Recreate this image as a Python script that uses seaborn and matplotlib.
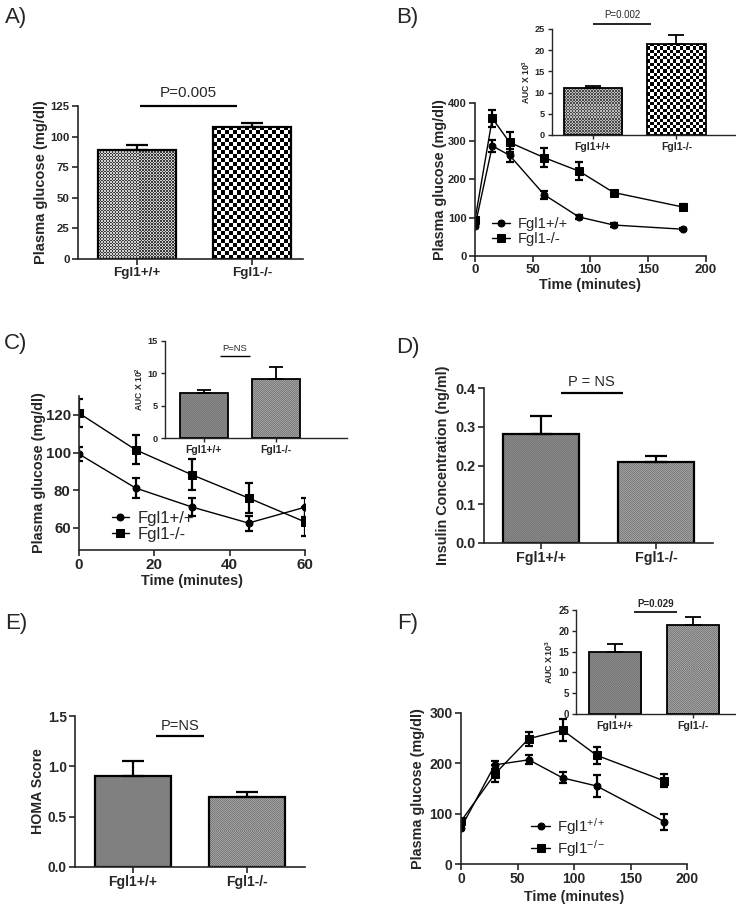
import numpy as np
import matplotlib
matplotlib.use('Agg')
import matplotlib.pyplot as plt
import seaborn as sns
from matplotlib.colors import to_rgb

sns.set_style('ticks')
plt.rcParams['font.family'] = ['Liberation Sans', 'DejaVu Sans']
plt.rcParams['mathtext.fontset'] = 'custom'
plt.rcParams['mathtext.rm'] = 'Liberation Sans'
plt.rcParams['mathtext.bf'] = 'Liberation Sans:bold'
plt.rcParams['mathtext.it'] = 'Liberation Sans:italic'

# ---------------- data ----------------
groups = ['Fgl1+/+', 'Fgl1-/-']

# A) fasting glucose
a_mean = [89, 108]
a_err = [4, 3]

# B) glucose tolerance test
b_time = [0, 15, 30, 60, 90, 120, 180]
b_wt = [78, 288, 263, 160, 102, 81, 70]
b_wt_err = [4, 16, 16, 10, 4, 4, 3]
b_ko = [94, 360, 297, 257, 222, 166, 128]
b_ko_err = [5, 22, 26, 25, 24, 5, 9]
b_auc = [11.1, 21.5]
b_auc_err = [0.4, 2.0]

# C) insulin tolerance test
c_time = [0, 15, 30, 45, 60]
c_wt = [99.2, 81.2, 71.1, 62.6, 71.0]
c_wt_err = [3.5, 5.5, 5.0, 4.0, 5.0]
c_ko = [120.9, 101.5, 88.2, 75.9, 63.2]
c_ko_err = [7.5, 7.6, 8.3, 7.8, 7.7]
c_auc = [6.9, 9.1]
c_auc_err = [0.6, 1.9]

# D) insulin
d_mean = [0.281, 0.208]
d_err = [0.048, 0.016]

# E) HOMA
e_mean = [0.905, 0.70]
e_err = [0.149, 0.043]

# F) pyruvate tolerance test
f_time = [0, 30, 60, 90, 120, 180]
f_wt = [72, 197, 207, 171, 155, 84]
f_wt_err = [4, 8, 9, 11, 21, 16]
f_ko = [85, 179, 249, 266, 216, 165]
f_ko_err = [4, 17, 14, 22, 17, 13]
f_auc = [15.0, 21.5]
f_auc_err = [1.8, 1.9]

# ---------------- figure ----------------
W, H = 736, 909
fig = plt.figure(figsize=(W / 100, H / 100), dpi=100)


def axes_px(left, right, top, bottom):
    return fig.add_axes([left / W, 1 - bottom / H, (right - left) / W, (bottom - top) / H])


def style(ax, xfs, yfs, tick_len=4, lw=1.2):
    sns.despine(ax=ax)
    for s in ('left', 'bottom'):
        ax.spines[s].set_linewidth(lw)
    ax.tick_params(direction='out', length=tick_len, width=lw, pad=2)
    ax.tick_params(axis='x', labelsize=xfs)
    ax.tick_params(axis='y', labelsize=yfs)
    for lbl in ax.get_xticklabels() + ax.get_yticklabels():
        lbl.set_fontweight('bold')


def checker(ax, patch, cell, c1, c2):
    x0, y0 = patch.get_x(), patch.get_y()
    w, h = patch.get_width(), patch.get_height()
    p0 = ax.transData.transform((x0, y0))
    p1 = ax.transData.transform((x0 + w, y0 + h))
    nx = max(1, int(round(abs(p1[0] - p0[0]) / cell)))
    ny = max(1, int(round(abs(p1[1] - p0[1]) / cell)))
    g = np.add.outer(np.arange(ny), np.arange(nx)) % 2
    img = np.where(g[..., None] == 0, np.array(to_rgb(c1)), np.array(to_rgb(c2)))
    im = ax.imshow(img, extent=(x0, x0 + w, y0, y0 + h), origin='lower',
                   interpolation='nearest', aspect='auto', zorder=patch.get_zorder() - 0.05)
    im.set_clip_path(patch)
    patch.set_facecolor('none')


def bars(ax, means, errs, width, xlim, ylim, textures, lw=1.6, cap=8, elw=1.6):
    sns.barplot(x=groups, y=means, hue=groups, palette=['#888888', '#888888'], legend=False,
                width=width, edgecolor='black', linewidth=lw, saturation=1, ax=ax)
    ax.errorbar([0, 1], means, yerr=[[0, 0], errs], fmt='none', ecolor='black',
                elinewidth=elw, capsize=cap, capthick=elw, zorder=3)
    ax.set_xlim(*xlim)
    ax.set_ylim(*ylim)
    ax.set_autoscale_on(False)
    ax.set_xlabel('')
    for patch, tex in zip(ax.patches[:2], textures):
        checker(ax, patch, *tex)
    ax.set_xlim(*xlim)
    ax.set_ylim(*ylim)


def lines(ax, t, wt, wt_err, ko, ko_err, labels, ms=5, lw=1.0, elw=1.6, cap=3):
    sns.lineplot(x=t, y=wt, marker='o', color='black', markersize=ms, linewidth=lw,
                 markeredgecolor='black', label=labels[0], ax=ax)
    ax.errorbar(t, wt, yerr=wt_err, fmt='none', ecolor='black', elinewidth=elw,
                capsize=cap, capthick=elw)
    sns.lineplot(x=t, y=ko, marker='s', color='black', markersize=ms + 0.6, linewidth=lw,
                 markeredgecolor='black', label=labels[1], ax=ax)
    ax.errorbar(t, ko, yerr=ko_err, fmt='none', ecolor='black', elinewidth=elw,
                capsize=cap, capthick=elw)


def pbar(ax, x0, x1, y_line, y_text, text, fs, lw=1.6, weight='normal'):
    ax.plot([x0, x1], [y_line, y_line], color='black', lw=lw, clip_on=False, solid_capstyle='butt')
    ax.text((x0 + x1) / 2, y_text, text, ha='center', va='center', fontsize=fs,
            fontweight=weight, clip_on=False)


def legend(ax, x, y, fs, hl, htp, ls, labels=None):
    handles, lbls = ax.get_legend_handles_labels()
    if labels is not None:
        lbls = labels
    ax.legend(handles, lbls, loc='upper left', bbox_to_anchor=(x / W, 1 - y / H),
              bbox_transform=fig.transFigure, frameon=False, fontsize=fs, handlelength=hl,
              handletextpad=htp, labelspacing=ls, borderpad=0, borderaxespad=0)


fine_grey = (1.5, '#3c3c3c', '#d0d0d0')
coarse_bw = (4.0, '#000000', '#ffffff')
soft1 = (1.0, '#767676', '#8a8a8a')
soft2 = (1.0, '#7c7c7c', '#a0a0a0')

# ---------- A ----------
axA = axes_px(78, 303, 106, 259)
bars(axA, a_mean, a_err, 0.68, (-0.513, 1.443), (0, 125), [fine_grey, coarse_bw], cap=8)
axA.set_yticks([0, 25, 50, 75, 100, 125])
axA.set_xticks([0, 1])
axA.set_xticklabels(groups)
axA.set_ylabel('Plasma glucose (mg/dl)', fontsize=10.5, fontweight='bold', labelpad=2)
style(axA, 9.7, 8.2)
pbar(axA, 0.026, 0.87, 125, 135.6, 'P=0.005', 11)

# ---------- B ----------
axB = axes_px(475, 706, 103, 256)
lines(axB, b_time, b_wt, b_wt_err, b_ko, b_ko_err, groups, ms=5)
axB.set_xlim(0, 200)
axB.set_ylim(0, 400)
axB.set_xticks([0, 50, 100, 150, 200])
axB.set_yticks([0, 100, 200, 300, 400])
axB.set_xlabel('Time (minutes)', fontsize=10.4, fontweight='bold', labelpad=1)
axB.set_ylabel('Plasma glucose (mg/dl)', fontsize=10.4, fontweight='bold', labelpad=1)
style(axB, 9.5, 8.0)
legend(axB, 492, 217, 10.6, 1.25, 0.5, 0.1)

axBi = axes_px(552, 735, 29, 135)
bars(axBi, b_auc, b_auc_err, 0.7, (-0.488, 1.7), (0, 25),
     [(1.5, '#4a4a4a', '#bcbcbc'), (3.3, '#000000', '#ffffff')], lw=1.3, cap=6, elw=1.3)
axBi.set_yticks([0, 5, 10, 15, 20, 25])
axBi.set_xticks([0, 1])
axBi.set_xticklabels(groups)
axBi.set_ylabel(r'AUC X 10$^{\mathbf{3}}$', fontsize=6.2, fontweight='bold', labelpad=2)
style(axBi, 7.5, 6.6, tick_len=3, lw=1.0)
pbar(axBi, 0.0, 0.7, 26.2, 28.4, 'P=0.002', 7, lw=1.2)

# ---------- C ----------
axC = axes_px(79, 305, 396, 550)
lines(axC, c_time, c_wt, c_wt_err, c_ko, c_ko_err, groups, ms=5)
axC.set_xlim(0, 60)
axC.set_ylim(48.3, 130)
axC.set_xticks([0, 20, 40, 60])
axC.set_yticks([60, 80, 100, 120])
axC.set_xlabel('Time (minutes)', fontsize=10.4, fontweight='bold', labelpad=1)
axC.set_ylabel('Plasma glucose (mg/dl)', fontsize=10.4, fontweight='bold', labelpad=0)
style(axC, 11, 10.8)
legend(axC, 112, 511, 12, 1.0, 0.55, 0.05)

axCi = axes_px(165, 347, 341, 438)
bars(axCi, c_auc, c_auc_err, 0.667, (-0.54, 1.99), (0, 15), [soft1, soft2], lw=1.3, cap=5, elw=1.3)
axCi.set_yticks([0, 5, 10, 15])
axCi.set_xticks([0, 1])
axCi.set_xticklabels(groups)
axCi.set_ylabel(r'AUC X 10$^{\mathbf{2}}$', fontsize=6.2, fontweight='bold', labelpad=2)
style(axCi, 7.5, 6.6, tick_len=3, lw=1.0)
pbar(axCi, 0.22, 0.64, 12.7, 13.8, 'P=NS', 6.8, lw=1.0)

# ---------- D ----------
axD = axes_px(484, 713, 388, 543)
bars(axD, d_mean, d_err, 0.66, (-0.496, 1.496), (0, 0.4), [soft1, soft2], cap=8)
axD.set_yticks([0.0, 0.1, 0.2, 0.3, 0.4])
axD.set_yticklabels(['0.0', '0.1', '0.2', '0.3', '0.4'])
axD.set_xticks([0, 1])
axD.set_xticklabels(groups)
axD.set_ylabel('Insulin Concentration (ng/ml)', fontsize=10.4, fontweight='bold', labelpad=4)
style(axD, 10.3, 10.4)
pbar(axD, 0.17, 0.71, 0.387, 0.415, 'P = NS', 10.5)

# ---------- E ----------
axE = axes_px(75, 305, 716, 867)
bars(axE, e_mean, e_err, 0.675, (-0.509, 1.509), (0, 1.5),
     [(1.0, '#808080', '#808080'), soft2], cap=8)
axE.set_yticks([0.0, 0.5, 1.0, 1.5])
axE.set_yticklabels(['0.0', '0.5', '1.0', '1.5'])
axE.set_xticks([0, 1])
axE.set_xticklabels(groups)
axE.set_ylabel('HOMA Score', fontsize=10.2, fontweight='bold', labelpad=2)
style(axE, 10, 9.9)
pbar(axE, 0.2, 0.62, 1.30, 1.40, 'P=NS', 10.5)

# ---------- F ----------
axF = axes_px(461, 687, 713, 864)
lines(axF, f_time, f_wt, f_wt_err, f_ko, f_ko_err, groups, ms=5)
axF.set_xlim(0, 200)
axF.set_ylim(0, 300)
axF.set_xticks([0, 50, 100, 150, 200])
axF.set_yticks([0, 100, 200, 300])
axF.set_xlabel('Time (minutes)', fontsize=10.2, fontweight='bold', labelpad=3)
axF.set_ylabel('Plasma glucose (mg/dl)', fontsize=10.4, fontweight='bold', labelpad=3)
style(axF, 10, 10)
legend(axF, 531, 816, 11, 1.25, 0.45, 0.05,
       labels=[r'Fgl1$^{\mathrm{+/+}}$', r'Fgl1$^{\mathrm{-/-}}$'])

axFi = axes_px(576, 736, 610, 714)
bars(axFi, f_auc, f_auc_err, 0.667, (-0.5, 1.55), (0, 25), [soft1, soft2], lw=1.3, cap=6, elw=1.3)
axFi.set_yticks([0, 5, 10, 15, 20, 25])
axFi.set_xticks([0, 1])
axFi.set_xticklabels(groups)
axFi.set_ylabel(r'AUC X10$^{\mathbf{3}}$', fontsize=6.5, fontweight='bold', labelpad=2)
style(axFi, 7.6, 7.0, tick_len=3, lw=1.0)
pbar(axFi, 0.24, 0.79, 24.5, 26.5, 'P=0.029', 7, lw=1.2, weight='bold')

# ---------- panel labels ----------
for lab, x, y in [('A)', 5, 17), ('B)', 396, 17), ('C)', 4, 343),
                  ('D)', 396, 348), ('E)', 5, 624), ('F)', 397, 623)]:
    fig.text(x / W, 1 - y / H, lab, fontsize=16, ha='left', va='center')

fig.savefig('out.png', dpi=100)
